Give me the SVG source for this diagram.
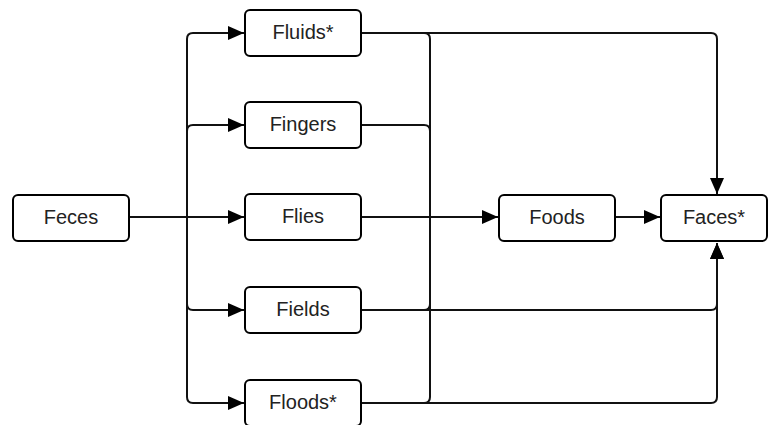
<svg xmlns="http://www.w3.org/2000/svg" width="769" height="425" viewBox="0 0 769 425">
<style>
.box{fill:#fff;stroke:#000;stroke-width:2}
.lbl{font-family:"Liberation Sans",Arial,sans-serif;font-size:20px;fill:#222;text-anchor:middle;dominant-baseline:central}
.c{fill:none;stroke:#111;stroke-width:2}
</style>
<defs>
<marker id="ah" markerUnits="userSpaceOnUse" markerWidth="17" markerHeight="15" refX="16" refY="7" orient="auto">
<path d="M0,0 L16,7 L0,14 z" fill="#000"/>
</marker>
</defs>
<rect width="769" height="425" fill="#fff"/>
<g id="connectors">
<path class="c" d="M129,217 H244" marker-end="url(#ah)"/>
<path class="c" d="M187,217 V39 Q187,33 193,33 H244" marker-end="url(#ah)"/>
<path class="c" d="M187,217 V131 Q187,125 193,125 H244" marker-end="url(#ah)"/>
<path class="c" d="M187,217 V304 Q187,310 193,310 H244" marker-end="url(#ah)"/>
<path class="c" d="M187,217 V397 Q187,403 193,403 H244" marker-end="url(#ah)"/>
<path class="c" d="M361,33 H711 Q717,33 717,39 V194" marker-end="url(#ah)"/>
<path class="c" d="M361,33 H424 Q430,33 430,39 V217"/>
<path class="c" d="M361,125 H424 Q430,125 430,131 V217"/>
<path class="c" d="M361,310 H424 Q430,310 430,304 V217"/>
<path class="c" d="M361,403 H424 Q430,403 430,397 V217"/>
<path class="c" d="M361,217 H498" marker-end="url(#ah)"/>
<path class="c" d="M361,310 H711 Q717,310 717,304 V243" marker-end="url(#ah)"/>
<path class="c" d="M361,403 H711 Q717,403 717,397 V243" marker-end="url(#ah)"/>
<path class="c" d="M615,217 H660" marker-end="url(#ah)"/>
</g>
<g id="feces"><rect class="box" x="13" y="195" width="116" height="46" rx="5"/><text class="lbl" x="71" y="217">Feces</text></g>
<g id="fluids"><rect class="box" x="245" y="10" width="116" height="46" rx="5"/><text class="lbl" x="303" y="32">Fluids*</text></g>
<g id="fingers"><rect class="box" x="245" y="102" width="116" height="46" rx="5"/><text class="lbl" x="303" y="124">Fingers</text></g>
<g id="flies"><rect class="box" x="245" y="194" width="116" height="46" rx="5"/><text class="lbl" x="303" y="216">Flies</text></g>
<g id="fields"><rect class="box" x="245" y="287" width="116" height="46" rx="5"/><text class="lbl" x="303" y="309">Fields</text></g>
<g id="floods"><rect class="box" x="245" y="380" width="116" height="46" rx="5"/><text class="lbl" x="303" y="402">Floods*</text></g>
<g id="foods"><rect class="box" x="499" y="195" width="116" height="46" rx="5"/><text class="lbl" x="557" y="217">Foods</text></g>
<g id="faces"><rect class="box" x="661" y="195" width="106" height="46" rx="5"/><text class="lbl" x="714" y="217">Faces*</text></g>
</svg>
